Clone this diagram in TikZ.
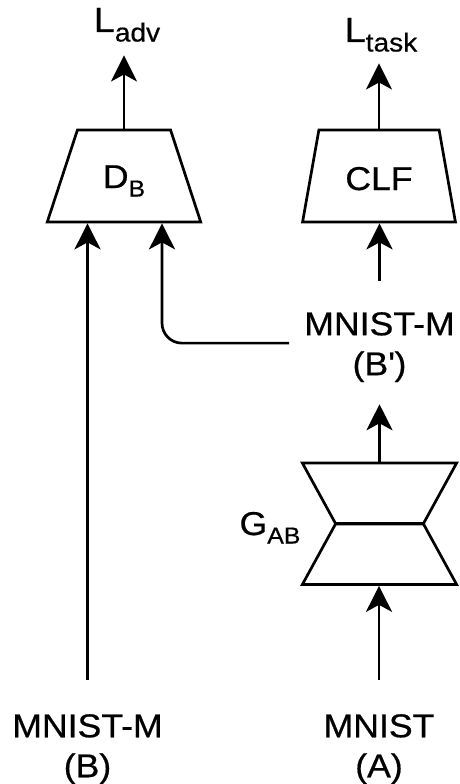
\documentclass[tikz,border=0pt]{standalone}
\usepackage{fontspec}
\setmainfont{Liberation Sans}[FakeStretch=1.08,FakeBold=0.6]
\usetikzlibrary{arrows.meta,shapes.geometric}
\newcommand\smallsub[1]{\raisebox{-8.5pt}{\fontsize{23pt}{23pt}\selectfont #1}}
\newcommand\lsub[1]{\raisebox{-9.5pt}{\fontsize{26pt}{26pt}\selectfont #1}}
\begin{document}
\begin{tikzpicture}[x=1pt,y=-1pt,
  lw/.style={line width=2.7pt},
  arr/.style={lw, -{Stealth[length=26pt,width=26pt,inset=7pt]}},
  trapbase/.style={draw, lw, trapezium, trapezium stretches=true, inner sep=0pt,
    font=\fontsize{33pt}{40pt}\selectfont},
  trap/.style={trapbase, minimum width=154pt, minimum height=92pt, trapezium angle=71.94},
  trapg/.style={trapbase, minimum width=155pt, minimum height=61pt, trapezium angle=63.43},
  txt/.style={inner sep=0pt, align=center, font=\fontsize{33pt}{40pt}\selectfont},
  ltxt/.style={inner sep=0pt, font=\fontsize{35pt}{40pt}\selectfont}]
\useasboundingbox (0,0) rectangle (460,784);
% shapes
\node[trap, text height=33pt, text depth=9pt] (db) at (124,176) {D\smallsub{B}};
\node[trap, text height=28pt, text depth=0pt] (clf) at (379,176) {CLF};
\node[trapg, shape border rotate=180] (gt) at (379.5,493.5) {\phantom{M}};
\node[trapg] (gb) at (379.5,554) {\phantom{M}};
% labels
\node[txt, anchor=base] (gl) at (270,535) {G\smallsub{AB}};
\node[txt, anchor=north] (bp) at (379.5,312) {MNIST-M\\(B\textquotesingle)};
\node[txt, anchor=north] (lb) at (87.5,714) {MNIST-M\\(B)};
\node[txt, anchor=north] (la) at (379,714) {MNIST\\(A)};
\node[ltxt, anchor=base] (ladv) at (127,32) {L\lsub{adv}};
\node[ltxt, anchor=base] (ltask) at (381,42) {L\lsub{task}};
% connectors
\draw[arr, shorten >=13.5pt] (db.north) -- (db.north |- ladv.south);
\draw[arr, shorten >=11.5pt] (clf.north) -- (clf.north |- ltask.south);
\draw[arr, shorten <=31pt] (bp.north) -- (bp.north |- clf.south);
\draw[arr, shorten <=15pt, rounded corners=20pt] ([yshift=4pt]bp.west) -| ([xshift=38pt]db.south);
\draw[arr, shorten >=22pt] (gt.north) -- (gt.north |- bp.south);
\draw[arr, shorten <=34pt] (la.north) -- (la.north |- gb.south);
\draw[arr, shorten <=34pt] (lb.north) -- (lb.north |- db.south);
\end{tikzpicture}
\end{document}
